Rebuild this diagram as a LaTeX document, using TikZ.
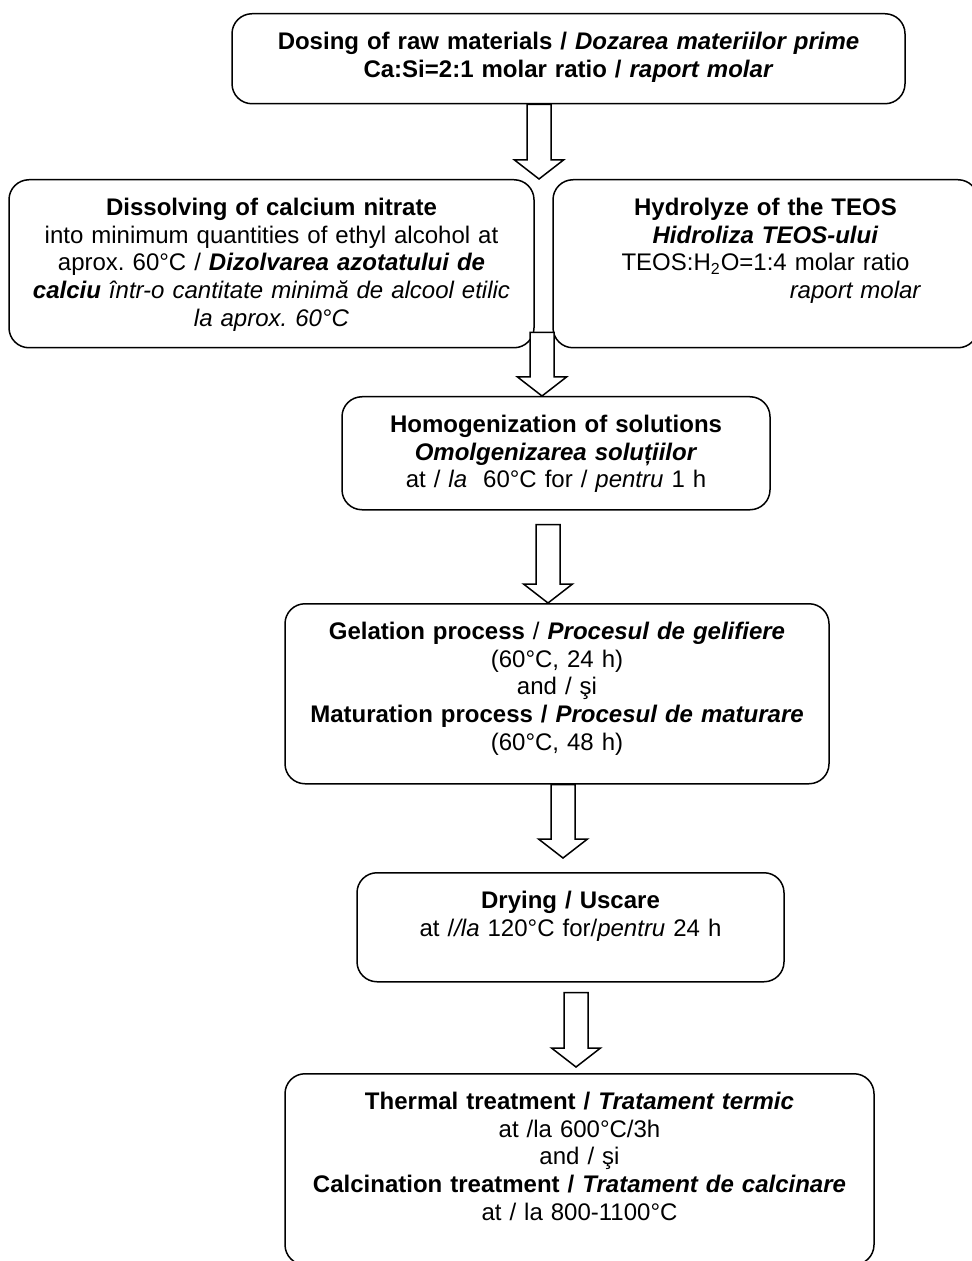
\documentclass[tikz,border=0pt]{standalone}
\usepackage{fontspec}
\setmainfont{Liberation Sans}
\usetikzlibrary{calc}
\frenchspacing

\begin{document}
\begin{tikzpicture}[x=0.5pt, y=-0.5pt,
    procbox/.style={draw, line width=0.75pt, rounded corners=10pt, fill=white,
        anchor=north, align=center, inner xsep=0pt, inner ysep=4pt,
        text height=14pt, font=\fontsize{12}{13.8}\selectfont},
    blockarrow/.style={draw, line width=0.75pt, fill=white, line join=miter}]

    \def\shaftW{12}
    \def\headW{24.5}
    \def\headL{19}

    \useasboundingbox (0,0) rectangle (971,1261);

    % Draw process boxes
    \node[procbox, text width=336.5pt, text depth=23pt] (dosing) at (568.5,13)
        {\textbf{Dosing of raw materials / \textit{Dozarea materiilor prime}}\\
         \textbf{Ca:Si=2:1 molar ratio / \textit{raport molar}}};
    \node[procbox, text width=262.5pt, text depth=62pt] (dissolve) at (271.5,179)
        {\textbf{Dissolving of calcium nitrate}\\
         into minimum quantities of ethyl alcohol at\\
         aprox. 60°C / \textbf{\textit{Dizolvarea azotatului de}}\\
         \textbf{\textit{calciu}} \textit{într-o cantitate minimă de alcool etilic}\\
         \textit{la aprox. 60°C}};
    \node[procbox, text width=212.5pt, text depth=62pt] (hydro) at (765.5,179)
        {\textbf{Hydrolyze of the TEOS}\\
         \textbf{\textit{Hidroliza TEOS-ului}}\\
         TEOS:H\textsubscript{2}O=1:4 molar ratio\\
         \hspace*{90pt}\textit{raport molar}};
    \node[procbox, text width=214pt, text depth=34.5pt] (homog) at (556,396)
        {\textbf{Homogenization of solutions}\\
         \textbf{\textit{Omolgenizarea soluțiilor}}\\
         at / \textit{la}\ \ 60°C for / \textit{pentru} 1 h};
    \node[procbox, text width=272pt, text depth=68pt] (gel) at (557,603)
        {\textbf{Gelation process} / \textbf{\textit{Procesul de gelifiere}}\\
         (60°C, 24 h)\\
         and / şi\\
         \textbf{Maturation process / \textit{Procesul de maturare}}\\
         (60°C, 48 h)};
    \node[procbox, text width=213.5pt, text depth=32.5pt] (dry) at (570.5,872)
        {\textbf{Drying / Uscare}\\
         at /\textit{/la} 120°C for/\textit{pentru} 24 h};
    \node[procbox, text width=294.5pt, text depth=73.5pt] (thermal) at (579.5,1073)
        {\textbf{Thermal treatment / \textit{Tratament termic}}\\
         at /la 600°C/3h\\
         and / şi\\
         \textbf{Calcination treatment / \textit{Tratament de calcinare}}\\
         at / la 800-1100°C};

    % Columns of the arrows
    \coordinate (col1) at (539,0);
    \coordinate (col2) at (542,0);
    \coordinate (col3) at (548,0);
    \coordinate (col4) at (563,0);
    \coordinate (col5) at (576,0);

    % Start and tip of each arrow
    \coordinate (a1s) at (col1 |- dosing.south);
    \coordinate (a1t) at (col1 |- dissolve.north);
    \coordinate (a2s) at ($(col2 |- dissolve.south)+(0,-16)$);
    \coordinate (a2t) at (col2 |- homog.north);
    \coordinate (a3s) at ($(col3 |- homog.south)+(0,14)$);
    \coordinate (a3t) at (col3 |- gel.north);
    \coordinate (a4s) at (col4 |- gel.south);
    \coordinate (a4t) at ($(col4 |- dry.north)+(0,-14)$);
    \coordinate (a5s) at ($(col5 |- dry.south)+(0,10)$);
    \coordinate (a5t) at ($(col5 |- thermal.north)+(0,-6)$);

    % Draw block arrows
    \foreach \s/\t in {a1s/a1t, a2s/a2t, a3s/a3t, a4s/a4t, a5s/a5t}
        \draw[blockarrow] ($(\s)+(-\shaftW,0)$) -- ($(\t)+(-\shaftW,-\headL)$)
            -- ($(\t)+(-\headW,-\headL)$) -- (\t) -- ($(\t)+(\headW,-\headL)$)
            -- ($(\t)+(\shaftW,-\headL)$) -- ($(\s)+(\shaftW,0)$) -- cycle;

\end{tikzpicture}
\end{document}
